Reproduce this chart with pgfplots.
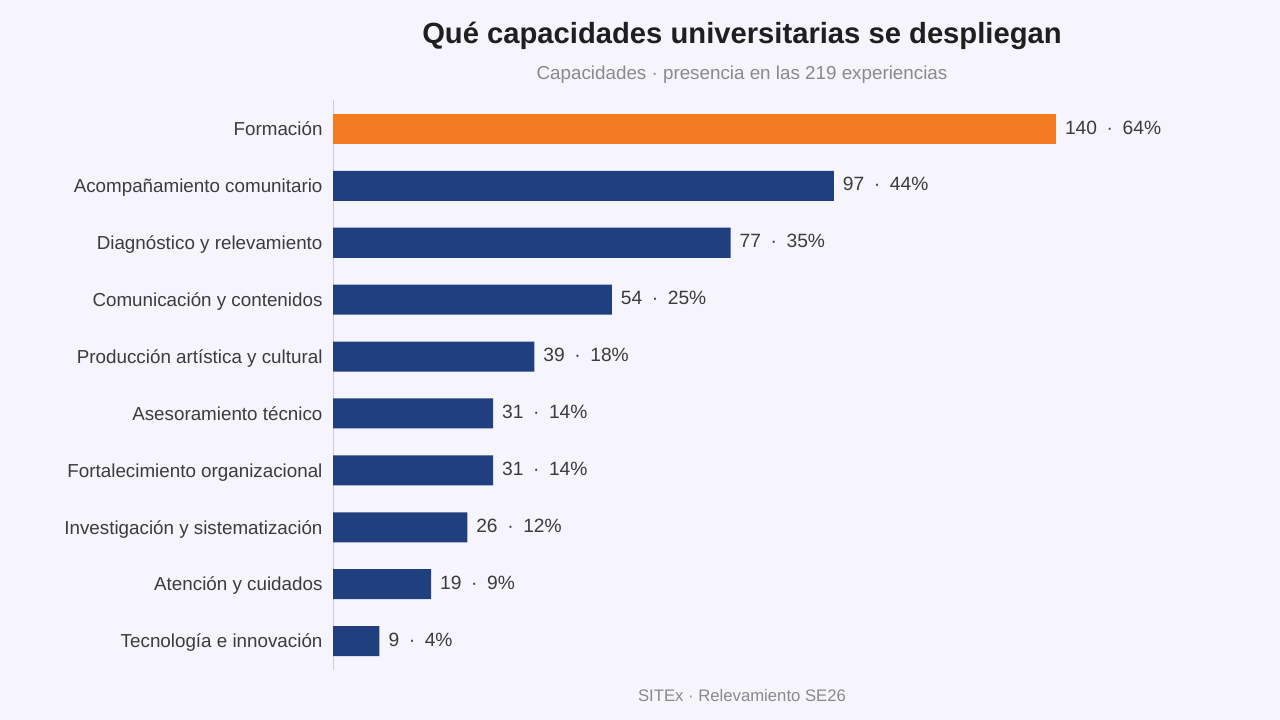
\documentclass[border=0pt]{standalone}
\usepackage{pgfplots}
\pgfplotsset{compat=1.18}
\usepackage{fontspec}
\setmainfont{Liberation Sans}
\definecolor{bg}{HTML}{F6F4FD}
\definecolor{orangebar}{HTML}{F57B22}
\definecolor{navybar}{HTML}{1F3F7E}
\definecolor{labtxt}{HTML}{3C3C3C}
\definecolor{subtxt}{HTML}{8A8A8A}
\definecolor{axline}{HTML}{CFCDD8}
\newcommand\sep{\hspace{0.5em}·\hspace{0.5em}}
\begin{document}
\begin{tikzpicture}[x=1pt,y=1pt]
\fill[bg] (0,0) rectangle (1280,720);
\begin{axis}[
  at={(333pt,50.5pt)}, anchor=south west,
  scale only axis, width=723pt, height=569pt,
  xmin=0, xmax=140, ymin=-0.5, ymax=9.5, y dir=reverse,
  clip=false,
  axis line style={draw=none},
  axis x line=none,
  ytick={0,...,9},
  yticklabels={Formación,Acompañamiento comunitario,Diagnóstico y relevamiento,Comunicación y contenidos,Producción artística y cultural,Asesoramiento técnico,Fortalecimiento organizacional,Investigación y sistematización,Atención y cuidados,Tecnología e innovación},
  major tick length=0pt,
  yticklabel style={font=\fontsize{18.8}{22}\selectfont, text=labtxt, xshift=-7pt, text height=13.5pt, text depth=4pt, yshift=-2pt},
  xbar, bar width=30pt, bar shift=0pt,
  point meta=explicit symbolic,
  nodes near coords,
  nodes near coords style={font=\fontsize{19.2}{23}\selectfont, text=labtxt, anchor=west, xshift=5.5pt, yshift=1.5pt},
]
\draw[axline, line width=1pt] (axis cs:0,-0.5) -- (axis cs:0,9.5);
\addplot[fill=orangebar, draw=none] coordinates {(140,0) [140\sep64\%]};
\addplot[fill=navybar, draw=none] coordinates {
(97,1) [97\sep44\%]
(77,2) [77\sep35\%]
(54,3) [54\sep25\%]
(39,4) [39\sep18\%]
(31,5) [31\sep14\%]
(31,6) [31\sep14\%]
(26,7) [26\sep12\%]
(19,8) [19\sep9\%]
(9,9) [9\sep4\%]
};
\end{axis}
\node[font=\bfseries\fontsize{29.2}{35}\selectfont, text=black!88] at (742,684) {Qué capacidades universitarias se despliegan};
\node[font=\fontsize{18.8}{22}\selectfont, text=subtxt] at (742,645) {Capacidades · presencia en las 219 experiencias};
\node[font=\fontsize{16.7}{20}\selectfont, text=subtxt] at (742,24) {SITEx · Relevamiento SE26};
\pgfresetboundingbox
\path[use as bounding box] (0,0) rectangle (1280,720);
\end{tikzpicture}
\end{document}
